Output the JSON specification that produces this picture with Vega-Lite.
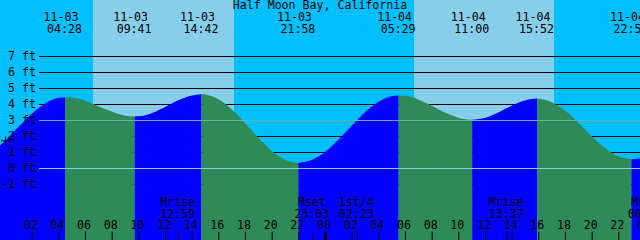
{
  "$schema": "https://vega.github.io/schema/vega-lite/v6.json",
  "width": 640,
  "height": 240,
  "padding": 0,
  "autosize": {"type": "none"},
  "background": "#00BFFF",
  "config": {"view": {"stroke": null}},
  "resolve": {"scale": {"color": "independent"}},
  "datasets": {
    "bands": [
      {"h1": -0.4125, "h2": 6.56, "p": "night"},
      {"h1": 6.56, "h2": 17.14, "p": "day"},
      {"h1": 17.14, "h2": 30.64, "p": "night"},
      {"h1": 30.64, "h2": 41.14, "p": "day"},
      {"h1": 41.14, "h2": 47.5875, "p": "night"}
    ],
    "grid": [
      {"v": 7, "kind": "ft"}, {"v": 6, "kind": "ft"}, {"v": 5, "kind": "ft"}, {"v": 4, "kind": "ft"},
      {"v": 2, "kind": "ft"}, {"v": 1, "kind": "ft"}, {"v": -1, "kind": "ft"},
      {"v": 3, "kind": "msl"}, {"v": 0, "kind": "datum"}
    ],
    "ftlabels": [
      {"v": 7, "lab": "7 ft"}, {"v": 6, "lab": "6 ft"}, {"v": 5, "lab": "5 ft"}, {"v": 4, "lab": "4 ft"},
      {"v": 3, "lab": "3 ft"}, {"v": 2, "lab": "2 ft"}, {"v": 1, "lab": "1 ft"}, {"v": 0, "lab": "0 ft"},
      {"v": -1, "lab": "-1 ft"}
    ],
    "tide": [
      {"h": -0.4125, "v": 1.44, "seg": "A", "dir": "rise"},
      {"h": 0, "v": 1.77, "seg": "A", "dir": "rise"},
      {"h": 1, "v": 2.62, "seg": "A", "dir": "rise"},
      {"h": 2, "v": 3.44, "seg": "A", "dir": "rise"},
      {"h": 3, "v": 4.08, "seg": "A", "dir": "rise"},
      {"h": 4, "v": 4.42, "seg": "A", "dir": "rise"},
      {"h": 4.467, "v": 4.46, "seg": "A", "dir": "rise"},
      {"h": 4.467, "v": 4.46, "seg": "B", "dir": "fall"},
      {"h": 5, "v": 4.43, "seg": "B", "dir": "fall"},
      {"h": 6, "v": 4.22, "seg": "B", "dir": "fall"},
      {"h": 7, "v": 3.88, "seg": "B", "dir": "fall"},
      {"h": 8, "v": 3.54, "seg": "B", "dir": "fall"},
      {"h": 9, "v": 3.3, "seg": "B", "dir": "fall"},
      {"h": 9.683, "v": 3.25, "seg": "B", "dir": "fall"},
      {"h": 9.683, "v": 3.25, "seg": "C", "dir": "rise"},
      {"h": 10, "v": 3.26, "seg": "C", "dir": "rise"},
      {"h": 11, "v": 3.47, "seg": "C", "dir": "rise"},
      {"h": 12, "v": 3.86, "seg": "C", "dir": "rise"},
      {"h": 13, "v": 4.28, "seg": "C", "dir": "rise"},
      {"h": 14, "v": 4.57, "seg": "C", "dir": "rise"},
      {"h": 14.7, "v": 4.64, "seg": "C", "dir": "rise"},
      {"h": 14.7, "v": 4.64, "seg": "D", "dir": "fall"},
      {"h": 15, "v": 4.62, "seg": "D", "dir": "fall"},
      {"h": 16, "v": 4.31, "seg": "D", "dir": "fall"},
      {"h": 17, "v": 3.67, "seg": "D", "dir": "fall"},
      {"h": 18, "v": 2.8, "seg": "D", "dir": "fall"},
      {"h": 19, "v": 1.89, "seg": "D", "dir": "fall"},
      {"h": 20, "v": 1.08, "seg": "D", "dir": "fall"},
      {"h": 21, "v": 0.53, "seg": "D", "dir": "fall"},
      {"h": 21.967, "v": 0.35, "seg": "D", "dir": "fall"},
      {"h": 21.967, "v": 0.35, "seg": "E", "dir": "rise"},
      {"h": 23, "v": 0.54, "seg": "E", "dir": "rise"},
      {"h": 24, "v": 1.07, "seg": "E", "dir": "rise"},
      {"h": 25, "v": 1.83, "seg": "E", "dir": "rise"},
      {"h": 26, "v": 2.7, "seg": "E", "dir": "rise"},
      {"h": 27, "v": 3.54, "seg": "E", "dir": "rise"},
      {"h": 28, "v": 4.18, "seg": "E", "dir": "rise"},
      {"h": 29, "v": 4.53, "seg": "E", "dir": "rise"},
      {"h": 29.483, "v": 4.57, "seg": "E", "dir": "rise"},
      {"h": 29.483, "v": 4.57, "seg": "F", "dir": "fall"},
      {"h": 30, "v": 4.54, "seg": "F", "dir": "fall"},
      {"h": 31, "v": 4.3, "seg": "F", "dir": "fall"},
      {"h": 32, "v": 3.91, "seg": "F", "dir": "fall"},
      {"h": 33, "v": 3.48, "seg": "F", "dir": "fall"},
      {"h": 34, "v": 3.16, "seg": "F", "dir": "fall"},
      {"h": 35, "v": 3.04, "seg": "F", "dir": "fall"},
      {"h": 35, "v": 3.04, "seg": "G", "dir": "rise"},
      {"h": 36, "v": 3.17, "seg": "G", "dir": "rise"},
      {"h": 37, "v": 3.52, "seg": "G", "dir": "rise"},
      {"h": 38, "v": 3.94, "seg": "G", "dir": "rise"},
      {"h": 39, "v": 4.27, "seg": "G", "dir": "rise"},
      {"h": 39.867, "v": 4.37, "seg": "G", "dir": "rise"},
      {"h": 39.867, "v": 4.37, "seg": "H", "dir": "fall"},
      {"h": 41, "v": 4.13, "seg": "H", "dir": "fall"},
      {"h": 42, "v": 3.59, "seg": "H", "dir": "fall"},
      {"h": 43, "v": 2.82, "seg": "H", "dir": "fall"},
      {"h": 44, "v": 1.98, "seg": "H", "dir": "fall"},
      {"h": 45, "v": 1.25, "seg": "H", "dir": "fall"},
      {"h": 46, "v": 0.75, "seg": "H", "dir": "fall"},
      {"h": 46.95, "v": 0.58, "seg": "H", "dir": "fall"},
      {"h": 46.95, "v": 0.58, "seg": "I", "dir": "rise"},
      {"h": 47.5875, "v": 0.62, "seg": "I", "dir": "rise"}
    ],
    "events": [
      {"h": 4.467, "d": "11-03", "t": "04:28"},
      {"h": 9.683, "d": "11-03", "t": "09:41"},
      {"h": 14.7, "d": "11-03", "t": "14:42"},
      {"h": 21.967, "d": "11-03", "t": "21:58"},
      {"h": 29.483, "d": "11-04", "t": "05:29"},
      {"h": 35, "d": "11-04", "t": "11:00"},
      {"h": 39.867, "d": "11-04", "t": "15:52"},
      {"h": 46.95, "d": "11-04", "t": "22:57"}
    ],
    "moon": [
      {"h": 12.983, "a": "Mrise", "t": "12:59"},
      {"h": 23.05, "a": "Mset", "t": "23:03"},
      {"h": 26.383, "a": "1st/4", "t": "02:23"},
      {"h": 37.617, "a": "Mrise", "t": "13:37"},
      {"h": 48.05, "a": "Mset", "t": "00:03"}
    ],
    "hours": [
      {"h": 2, "lab": "02"}, {"h": 4, "lab": "04"}, {"h": 6, "lab": "06"}, {"h": 8, "lab": "08"},
      {"h": 10, "lab": "10"}, {"h": 12, "lab": "12"}, {"h": 14, "lab": "14"}, {"h": 16, "lab": "16"},
      {"h": 18, "lab": "18"}, {"h": 20, "lab": "20"}, {"h": 22, "lab": "22"}, {"h": 24, "lab": "00"},
      {"h": 26, "lab": "02"}, {"h": 28, "lab": "04"}, {"h": 30, "lab": "06"}, {"h": 32, "lab": "08"},
      {"h": 34, "lab": "10"}, {"h": 36, "lab": "12"}, {"h": 38, "lab": "14"}, {"h": 40, "lab": "16"},
      {"h": 42, "lab": "18"}, {"h": 44, "lab": "20"}, {"h": 46, "lab": "22"}, {"h": 48, "lab": "00"}
    ],
    "title": [{"h": 23.5875, "name": "Half Moon Bay, California"}],
    "start": [{"h": 0, "v": 1.74}]
  },
  "layer": [
    {
      "data": {"name": "bands"},
      "mark": {"type": "rect"},
      "encoding": {
        "x": {"field": "h1", "type": "quantitative", "axis": null, "scale": {"domain": [-0.4125, 47.5875], "nice": false, "zero": false}},
        "x2": {"field": "h2"},
        "color": {"field": "p", "type": "nominal", "legend": null, "scale": {"domain": ["night", "day"], "range": ["#00BFFF", "#87CEEB"]}}
      }
    },
    {
      "data": {"name": "grid"},
      "transform": [{"filter": "datum.kind === 'ft'"}],
      "mark": {"type": "rule", "color": "#000000", "strokeWidth": 1},
      "encoding": {
        "y": {"field": "v", "type": "quantitative", "axis": null, "scale": {"domain": [-4.46875, 10.53125], "nice": false, "zero": false}},
        "x": {"datum": 2.5125, "type": "quantitative", "axis": null},
        "x2": {"datum": 47.5875}
      }
    },
    {
      "data": {"name": "tide"},
      "mark": {"type": "area", "interpolate": "monotone"},
      "encoding": {
        "x": {"field": "h", "type": "quantitative", "axis": null},
        "y": {"field": "v", "type": "quantitative", "axis": null, "stack": null},
        "y2": {"datum": -4.46875},
        "detail": {"field": "seg", "type": "nominal"},
        "color": {"field": "dir", "type": "nominal", "legend": null, "scale": {"domain": ["rise", "fall"], "range": ["#0000FF", "#2E8B57"]}}
      }
    },
    {
      "data": {"name": "grid"},
      "transform": [{"filter": "datum.kind !== 'ft'"}],
      "mark": {"type": "rule", "strokeWidth": 1},
      "encoding": {
        "y": {"field": "v", "type": "quantitative", "axis": null},
        "x": {"datum": 2.5125, "type": "quantitative", "axis": null},
        "x2": {"datum": 47.5875},
        "color": {"field": "kind", "type": "nominal", "legend": null, "scale": {"domain": ["msl", "datum"], "range": ["#5FAFB0", "#87CEEB"]}}
      }
    },
    {
      "data": {"name": "ftlabels"},
      "mark": {"type": "text", "font": "DejaVu Sans Mono", "fontSize": 11.6, "color": "#000000", "align": "right", "baseline": "alphabetic", "dy": 3.5},
      "encoding": {
        "y": {"field": "v", "type": "quantitative", "axis": null},
        "x": {"datum": 2.2875, "type": "quantitative", "axis": null},
        "text": {"field": "lab"}
      }
    },
    {
      "data": {"name": "events"},
      "mark": {"type": "text", "font": "DejaVu Sans Mono", "fontSize": 11.6, "color": "#000000", "align": "center", "baseline": "alphabetic", "dx": -4},
      "encoding": {
        "x": {"field": "h", "type": "quantitative", "axis": null},
        "y": {"datum": 9.188, "type": "quantitative", "axis": null},
        "text": {"field": "d"}
      }
    },
    {
      "data": {"name": "events"},
      "mark": {"type": "text", "font": "DejaVu Sans Mono", "fontSize": 11.6, "color": "#000000", "align": "center", "baseline": "alphabetic", "dx": -0.5},
      "encoding": {
        "x": {"field": "h", "type": "quantitative", "axis": null},
        "y": {"datum": 8.438, "type": "quantitative", "axis": null},
        "text": {"field": "t"}
      }
    },
    {
      "data": {"name": "title"},
      "mark": {"type": "text", "font": "DejaVu Sans Mono", "fontSize": 11.6, "color": "#000000", "align": "center", "baseline": "alphabetic"},
      "encoding": {
        "x": {"field": "h", "type": "quantitative", "axis": null},
        "y": {"datum": 9.969, "type": "quantitative", "axis": null},
        "text": {"field": "name"}
      }
    },
    {
      "data": {"name": "moon"},
      "mark": {"type": "text", "font": "DejaVu Sans Mono", "fontSize": 11.6, "color": "#000000", "align": "center", "baseline": "alphabetic", "dx": -1},
      "encoding": {
        "x": {"field": "h", "type": "quantitative", "axis": null},
        "y": {"datum": -2.344, "type": "quantitative", "axis": null},
        "text": {"field": "a"}
      }
    },
    {
      "data": {"name": "moon"},
      "mark": {"type": "text", "font": "DejaVu Sans Mono", "fontSize": 11.6, "color": "#000000", "align": "center", "baseline": "alphabetic", "dx": -1},
      "encoding": {
        "x": {"field": "h", "type": "quantitative", "axis": null},
        "y": {"datum": -3.094, "type": "quantitative", "axis": null},
        "text": {"field": "t"}
      }
    },
    {
      "data": {"name": "hours"},
      "mark": {"type": "text", "font": "DejaVu Sans Mono", "fontSize": 11.6, "color": "#000000", "align": "center", "baseline": "alphabetic", "dx": -1.5},
      "encoding": {
        "x": {"field": "h", "type": "quantitative", "axis": null},
        "y": {"datum": -3.781, "type": "quantitative", "axis": null},
        "text": {"field": "lab"}
      }
    },
    {
      "data": {"name": "hours"},
      "mark": {"type": "rule", "color": "#000000"},
      "encoding": {
        "x": {"field": "h", "type": "quantitative", "axis": null},
        "y": {"datum": -3.95, "type": "quantitative", "axis": null},
        "y2": {"datum": -4.46875},
        "strokeWidth": {"condition": {"test": "datum.h % 24 === 0", "value": 3}, "value": 1}
      }
    },
    {
      "data": {"name": "moon"},
      "mark": {"type": "rule", "color": "#000000", "strokeWidth": 1},
      "encoding": {
        "x": {"field": "h", "type": "quantitative", "axis": null},
        "y": {"datum": -3.95, "type": "quantitative", "axis": null},
        "y2": {"datum": -4.46875}
      }
    },
    {
      "data": {"name": "start"},
      "mark": {"type": "point", "shape": "M-1,0L1,0M0,-1L0,1", "size": 81, "filled": false, "stroke": "#000000", "strokeWidth": 1, "opacity": 1},
      "encoding": {
        "x": {"field": "h", "type": "quantitative", "axis": null},
        "y": {"field": "v", "type": "quantitative", "axis": null}
      }
    }
  ]
}
